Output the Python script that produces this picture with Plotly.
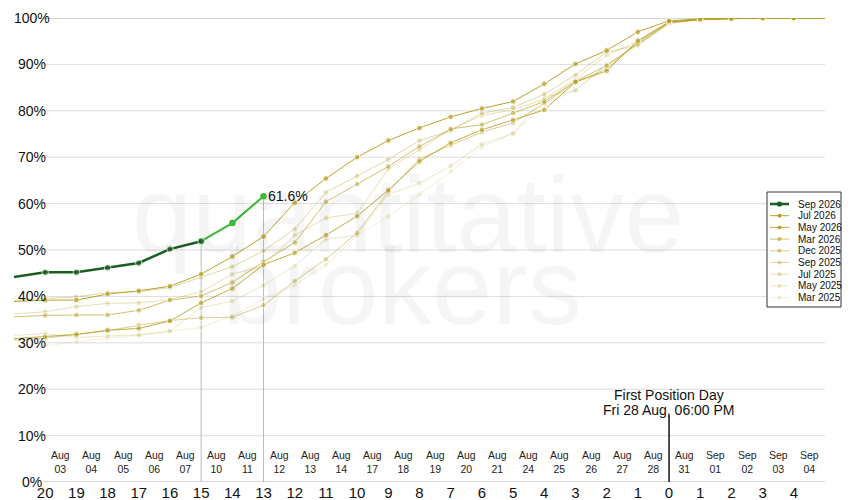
import plotly.graph_objects as go

# trading days relative to first position day (negative = before)
days = list(range(-21, 6))
tick_days = list(range(-20, 5))
tick_text = [str(abs(d)) for d in tick_days]
date_labels = ["Aug<br>03", "Aug<br>04", "Aug<br>05", "Aug<br>06", "Aug<br>07",
               "Aug<br>10", "Aug<br>11", "Aug<br>12", "Aug<br>13", "Aug<br>14",
               "Aug<br>17", "Aug<br>18", "Aug<br>19", "Aug<br>20", "Aug<br>21",
               "Aug<br>24", "Aug<br>25", "Aug<br>26", "Aug<br>27", "Aug<br>28",
               "Aug<br>31", "Sep<br>01", "Sep<br>02", "Sep<br>03", "Sep<br>04"]
pct_ticks = [0, 10, 20, 30, 40, 50, 60, 70, 80, 90, 100]

# current contract
sep26_days = [-21, -20, -19, -18, -17, -16, -15]
sep26 = [44.2, 45.2, 45.2, 46.2, 47.2, 50.2, 51.9]
sep26_live_days = [-15, -14, -13]
sep26_live = [51.9, 55.8, 61.6]

# past contracts, values for days -21 .. 5
jul26 = [38.9, 39.2, 39.2, 40.5, 41.2, 42.2, 44.8, 48.6, 52.9, 60.2, 65.4, 70.0, 73.6, 76.3,
         78.7, 80.5, 82.0, 85.8, 90.1, 93.0, 97.0, 99.4, 99.8, 99.9, 100, 100, 100]
may26 = [30.9, 31.3, 31.8, 32.7, 33.1, 34.7, 38.6, 41.7, 46.8, 49.4, 53.2, 57.3, 62.9, 69.1,
         73.1, 75.9, 78.0, 80.2, 86.2, 88.6, 95.1, 99.2, 99.7, 99.9, 100, 100, 100]
mar26 = [35.6, 35.9, 36.0, 36.0, 37.0, 39.2, 40.1, 43.0, 47.5, 51.6, 60.4, 64.2, 68.0, 72.3,
         76.1, 77.0, 79.5, 82.0, 86.4, 89.7, 94.5, 99.0, 99.7, 99.9, 100, 100, 100]
dec25 = [30.6, 31.0, 31.8, 32.6, 33.8, 34.8, 35.4, 35.5, 38.1, 43.3, 48.0, 53.7, 62.6, 69.6,
         72.6, 75.4, 77.4, 81.6, 86.2, 89.0, 94.8, 99.1, 99.7, 99.9, 100, 100, 100]
sep25 = [39.2, 39.5, 39.9, 40.8, 41.0, 41.9, 44.1, 46.4, 49.8, 54.5, 62.4, 65.9, 69.5, 73.6,
         75.7, 79.5, 80.7, 83.6, 87.7, 92.7, 94.1, 98.9, 99.6, 99.9, 100, 100, 100]
jul25 = [36.2, 36.7, 37.8, 38.5, 38.6, 39.3, 41.0, 44.8, 46.6, 53.2, 56.9, 57.9, 67.5, 71.6,
         76.0, 79.0, 80.2, 82.5, 86.8, 92.0, 95.0, 99.0, 99.7, 99.9, 100, 100, 100]
may25 = [31.6, 32.0, 31.2, 31.5, 31.7, 32.5, 37.6, 39.0, 42.4, 46.6, 52.3, 53.2, 62.0, 64.4,
         68.1, 72.8, 75.1, 83.0, 84.4, 90.0, 94.3, 98.8, 99.7, 99.9, 100, 100, 100]
mar25 = [29.1, 29.4, 30.2, 31.0, 31.6, 32.5, 33.3, 35.8, 39.4, 42.4, 46.8, 53.2, 57.2, 62.0,
         66.9, 72.2, 75.1, 81.6, 84.4, 89.7, 94.1, 98.9, 99.7, 99.9, 100, 100, 100]

past_names = ["Jul 2026", "May 2026", "Mar 2026", "Dec 2025", "Sep 2025",
              "Jul 2025", "May 2025", "Mar 2025"]
past_values = [jul26, may26, mar26, dec25, sep25, jul25, may25, mar25]
past_alpha = [0.95, 0.85, 0.65, 0.5, 0.4, 0.32, 0.25, 0.18]

DARK = "rgb(27,94,32)"
LIVE = "rgb(60,184,60)"
FONT = "Liberation Sans"

# the page body has an 8px margin, so the figure is a bit smaller than the window
PAGE = 8
W, H = 850 - PAGE, 500 - PAGE
# plot area in window pixels
L, R, T, B = 14, 825, 18, 482


def px_x(p):
    return (p - L) / (R - L)


def px_y(p):
    return (B - p) / (B - T)


def gold(a):
    return "rgba(181,158,30,%s)" % a


def edge_sizes(xs, s):
    # no marker on points sitting on the plot edges
    return [0 if (x <= -21 or x >= 5) else s for x in xs]


fig = go.Figure()

# oldest drawn first so the recent ones sit on top
for name, vals, a in reversed(list(zip(past_names, past_values, past_alpha))):
    fig.add_trace(go.Scatter(
        x=days, y=vals, mode="lines+markers", name=name,
        line=dict(color=gold(a), width=1),
        marker=dict(color=gold(a), size=edge_sizes(days, 5.8)),
        showlegend=False, hoverinfo="skip"))

fig.add_trace(go.Scatter(
    x=sep26_live_days, y=sep26_live, mode="lines+markers",
    line=dict(color=LIVE, width=2), marker=dict(color=LIVE, size=6.5),
    showlegend=False))
fig.add_trace(go.Scatter(
    x=sep26_days, y=sep26, mode="lines+markers", name="Sep 2026",
    line=dict(color=DARK, width=2.5), marker=dict(color=DARK, size=edge_sizes(sep26_days, 6.5)),
    showlegend=False))

shapes = []
annotations = []

# watermark
wm_font = dict(family=FONT, size=108, color="rgba(0,0,0,0.04)")
annotations.append(dict(x=px_x(408), y=px_y(214), xref="paper", yref="paper",
                        text="quantitative", showarrow=False, font=wm_font))
annotations.append(dict(x=px_x(402), y=px_y(287), xref="paper", yref="paper",
                        text="brokers", showarrow=False, font=wm_font))

# horizontal gridlines + percentage labels
for v in pct_ticks:
    col = "#aaaaaa" if v in (0, 100) else "#dddddd"
    shapes.append(dict(type="line", xref="paper", yref="y", x0=px_x(43), x1=1,
                       y0=v, y1=v, line=dict(color=col, width=1), layer="below"))
    annotations.append(dict(x=px_x(31.5), y=v, xref="paper", yref="y", text="%d%%" % v,
                            showarrow=False, xanchor="center", yanchor="middle",
                            font=dict(family=FONT, size=14, color="#111")))

# date labels sit between the day counters (half a day to the right)
for d, lab in zip(tick_days, date_labels):
    annotations.append(dict(x=d + 0.5, y=4.4, text=lab, showarrow=False,
                            font=dict(family=FONT, size=10.5, color="#222")))

# markers for the current day and the last roll day
shapes.append(dict(type="line", x0=sep26_days[-1], x1=sep26_days[-1], y0=0, y1=sep26[-1],
                   line=dict(color="#bbbbbb", width=1), layer="below"))
shapes.append(dict(type="line", x0=sep26_live_days[-1], x1=sep26_live_days[-1], y0=0,
                   y1=sep26_live[-1], line=dict(color="#bbbbbb", width=1), layer="below"))
annotations.append(dict(x=sep26_live_days[-1], y=sep26_live[-1], text="%.1f%%" % sep26_live[-1],
                        showarrow=False, xanchor="left", yanchor="middle", xshift=2,
                        font=dict(family=FONT, size=14, color="#111")))

# first position day
shapes.append(dict(type="line", x0=0, x1=0, y0=0, y1=14.4,
                   line=dict(color="#111", width=1.5)))
annotations.append(dict(x=0, y=18.8, text="First Position Day", showarrow=False,
                        yanchor="middle", font=dict(family=FONT, size=14, color="#111")))
annotations.append(dict(x=0, y=15.6, text="Fri 28 Aug, 06:00 PM", showarrow=False,
                        yanchor="middle", font=dict(family=FONT, size=14, color="#111")))

# legend drawn by hand for tight spacing
leg_names = ["Sep 2026"] + past_names
leg_cols = [DARK] + [gold(a) for a in past_alpha]
shapes.append(dict(type="rect", xref="paper", yref="paper",
                   x0=px_x(767), x1=px_x(841), y0=px_y(192), y1=px_y(307),
                   line=dict(color="#333", width=1), fillcolor="white"))
for i, (nm, col) in enumerate(zip(leg_names, leg_cols)):
    yy = 204 + i * 11.7
    w = 2.5 if i == 0 else 1
    r = 2.6 if i == 0 else 2.0
    shapes.append(dict(type="line", xref="paper", yref="paper",
                       x0=px_x(770), x1=px_x(789), y0=px_y(yy), y1=px_y(yy),
                       line=dict(color=col, width=w)))
    shapes.append(dict(type="circle", xref="paper", yref="paper",
                       x0=px_x(779.5 - r), x1=px_x(779.5 + r), y0=px_y(yy - r), y1=px_y(yy + r),
                       line=dict(width=0), fillcolor=col))
    annotations.append(dict(x=px_x(796), y=px_y(yy), xref="paper", yref="paper", text=nm,
                            showarrow=False, xanchor="left", yanchor="middle",
                            font=dict(family=FONT, size=10, color="#111")))

fig.update_layout(
    width=W, height=H, autosize=False,
    margin=dict(l=L - PAGE, r=850 - R, t=T - PAGE, b=500 - B, pad=0),
    paper_bgcolor="white", plot_bgcolor="white",
    font=dict(family=FONT, color="#111"),
    shapes=shapes, annotations=annotations,
    xaxis=dict(range=[-21, 5], tickvals=tick_days, ticktext=tick_text,
               showgrid=False, zeroline=False, showline=False, ticks="",
               automargin=False, tickfont=dict(size=15, color="#111")),
    yaxis=dict(range=[0, 100], showgrid=False, zeroline=False, showticklabels=False,
               ticks="", automargin=False),
)

fig.write_html("out.html")
